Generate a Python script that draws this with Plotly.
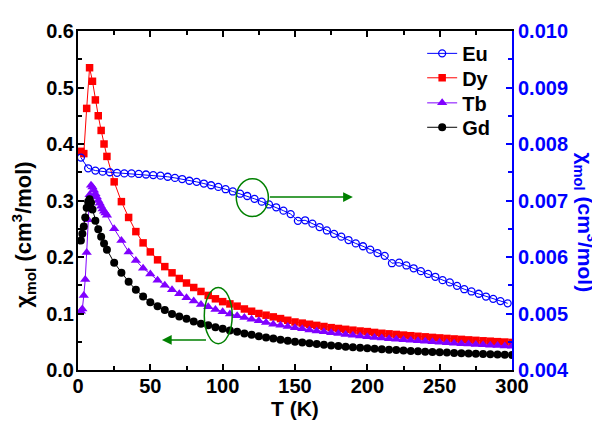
import plotly.graph_objects as go

# ---------------- data ----------------
T_grid = list(range(25, 301, 5))

dy_T = [2, 4, 6, 8, 10, 12, 14, 16, 18, 20] + T_grid
dy_chi = [0.387, 0.383, 0.463, 0.535, 0.511, 0.478, 0.450, 0.424, 0.400, 0.378,
          0.333, 0.298, 0.270, 0.245, 0.225, 0.209, 0.195, 0.183, 0.172, 0.162,
          0.154, 0.146, 0.139, 0.132, 0.126, 0.121, 0.117, 0.113, 0.108, 0.104,
          0.100, 0.097, 0.094, 0.091, 0.088, 0.085, 0.083, 0.081, 0.079, 0.077,
          0.075, 0.0735, 0.072, 0.0705, 0.069, 0.068, 0.0665, 0.065, 0.064, 0.063,
          0.0618, 0.0607, 0.0597, 0.0587, 0.0577, 0.0568, 0.0559, 0.055, 0.0542, 0.0533,
          0.0525, 0.0517, 0.051, 0.0502, 0.0495, 0.0488]

tb_T = list(range(2, 21)) + T_grid
tb_chi = [0.104, 0.108, 0.132, 0.160, 0.208, 0.266, 0.310, 0.327, 0.324, 0.318,
          0.312, 0.306, 0.300, 0.295, 0.290, 0.285, 0.281, 0.278, 0.274,
          0.250, 0.229, 0.209, 0.194, 0.180, 0.170, 0.159, 0.150, 0.142, 0.135,
          0.128, 0.122, 0.116, 0.112, 0.107, 0.103, 0.099, 0.096, 0.093, 0.090,
          0.087, 0.084, 0.081, 0.079, 0.077, 0.075, 0.073, 0.071, 0.069, 0.0675,
          0.066, 0.0645, 0.063, 0.0615, 0.060, 0.0588, 0.0577, 0.0566, 0.0555, 0.0545,
          0.0535, 0.0525, 0.0516, 0.0507, 0.0498, 0.049, 0.0482, 0.0474, 0.0466, 0.0459,
          0.0452, 0.0445, 0.0438, 0.0432, 0.0426, 0.042]

gd_T = [2, 3, 4, 5, 6, 7, 8, 9, 10, 12, 14, 16, 18, 20] + T_grid
gd_chi = [0.229, 0.241, 0.254, 0.270, 0.287, 0.298, 0.302, 0.296, 0.284, 0.264,
          0.249, 0.236, 0.224, 0.213,
          0.190, 0.172, 0.156, 0.142, 0.130, 0.120, 0.113, 0.106, 0.099, 0.0945,
          0.0905, 0.086, 0.082, 0.079, 0.0755, 0.0728, 0.070, 0.0675, 0.0648, 0.0622,
          0.0598, 0.0576, 0.0556, 0.0537, 0.0519, 0.0502, 0.0487, 0.0472, 0.0459, 0.0446,
          0.0434, 0.0423, 0.0412, 0.0402, 0.0393, 0.0384, 0.0375, 0.0367, 0.0359, 0.0352,
          0.0345, 0.0338, 0.0331, 0.0325, 0.0319, 0.0313, 0.0308, 0.0302, 0.0297, 0.0292,
          0.0288, 0.0283, 0.0279, 0.0275, 0.0271, 0.0267]

eu_T = list(range(2, 298, 5))
eu_chi = [0.00776, 0.00757, 0.00753, 0.00751, 0.00750, 0.00749, 0.00748, 0.00748,
          0.00747, 0.00746, 0.00745, 0.00744, 0.00742, 0.00740, 0.00738, 0.00735,
          0.00733, 0.00730, 0.00727, 0.00724, 0.00720, 0.00716, 0.00712, 0.00708,
          0.00703, 0.00698, 0.00693, 0.00688, 0.00682, 0.00676, 0.00664, 0.00665,
          0.00659, 0.00653, 0.00647, 0.00641, 0.00636, 0.00630, 0.00624, 0.00619,
          0.00613, 0.00607, 0.00602, 0.00589, 0.00590, 0.00585, 0.00580, 0.00575,
          0.00570, 0.00565, 0.00559, 0.00555, 0.00549, 0.00543, 0.00539, 0.00535,
          0.00530, 0.00526, 0.00522, 0.00518]

labels = ["Eu", "Dy", "Tb", "Gd"]

# ---------------- figure ----------------
FONT = "Liberation Sans, Arial, sans-serif"
BLUE = "#0000ff"
RED = "#ff0000"
PURPLE = "#8000ff"
GREEN = "#008000"

fig = go.Figure()
fig.add_trace(go.Scatter(x=eu_T, y=eu_chi, name=labels[0], yaxis="y2", mode="lines+markers",
                         legend="legend",
                         line=dict(color=BLUE, width=1),
                         marker=dict(symbol="circle-open", size=7, color=BLUE, line=dict(width=1.3))))
fig.add_trace(go.Scatter(x=dy_T, y=dy_chi, name=labels[1], mode="lines+markers",
                         legend="legend2",
                         line=dict(color=RED, width=1),
                         marker=dict(symbol="square", size=7.5, color=RED)))
fig.add_trace(go.Scatter(x=tb_T, y=tb_chi, name=labels[2], mode="lines+markers",
                         legend="legend3",
                         line=dict(color=PURPLE, width=1),
                         marker=dict(symbol="triangle-up", size=9, color=PURPLE)))
fig.add_trace(go.Scatter(x=gd_T, y=gd_chi, name=labels[3], mode="lines+markers",
                         legend="legend4",
                         line=dict(color="black", width=1),
                         marker=dict(symbol="circle", size=8, color="black")))

legfont = dict(family=FONT, size=20, color="black", weight="bold")
def leg(y):
    return dict(x=0.793, y=y, xanchor="left", yanchor="middle",
                bgcolor="rgba(0,0,0,0)", borderwidth=0, font=legfont, itemwidth=30)

tickfont = dict(family=FONT, size=20, color="black", weight="bold")
fig.update_layout(
    width=592, height=415,
    margin=dict(l=70, r=88, t=13, b=53),
    paper_bgcolor="white", plot_bgcolor="white",
    showlegend=True,
    legend=leg(0.934), legend2=leg(0.862), legend3=leg(0.788), legend4=leg(0.716),
    xaxis=dict(range=[0, 300], dtick=50, tick0=0, showgrid=False, zeroline=False,
               showline=True, linecolor="black", linewidth=2, mirror="ticks",
               ticks="inside", ticklen=6, tickwidth=2, tickcolor="black",
               ticklabelstandoff=-3,
               minor=dict(dtick=25, ticks="inside", ticklen=4, tickwidth=2, tickcolor="black"),
               tickfont=tickfont),
    yaxis=dict(range=[0, 0.6], dtick=0.1, tick0=0, tickformat=".1f", showgrid=False, zeroline=False,
               showline=True, linecolor="black", linewidth=2,
               ticks="inside", ticklen=6, tickwidth=2, tickcolor="black",
               ticklabelstandoff=-2,
               minor=dict(dtick=0.05, ticks="inside", ticklen=4, tickwidth=2, tickcolor="black"),
               tickfont=tickfont),
    yaxis2=dict(range=[0.004, 0.010], dtick=0.001, tick0=0.004, tickformat=".3f",
                overlaying="y", side="right", showgrid=False, zeroline=False,
                showline=True, linecolor=BLUE, linewidth=2,
                ticks="inside", ticklen=6, tickwidth=2, tickcolor=BLUE,
                minor=dict(dtick=0.0005, ticks="inside", ticklen=4, tickwidth=2, tickcolor=BLUE),
                tickfont=dict(family=FONT, size=20, color=BLUE, weight="bold")),
)

# axis titles as annotations
fig.add_annotation(text="T (K)", xref="paper", yref="paper", x=0.5, y=-0.115,
                   xanchor="center", yanchor="middle", showarrow=False,
                   font=dict(family=FONT, size=21, color="black", weight="bold"))
fig.add_annotation(text="χ<sub>mol</sub> (cm<sup>3</sup>/mol)", xref="paper", yref="paper",
                   x=-0.126, y=0.40, xanchor="center", yanchor="middle", textangle=-90,
                   showarrow=False, font=dict(family=FONT, size=22, color="black", weight="bold"))
fig.add_annotation(text="χ<sub>mol</sub> (cm<sup>3</sup>/mol)", xref="paper", yref="paper",
                   x=1.17, y=0.436, xanchor="center", yanchor="middle", textangle=90,
                   showarrow=False, font=dict(family=FONT, size=21, color=BLUE, weight="bold"))

# green ellipses and arrows
fig.add_shape(type="circle", xref="x", yref="y", x0=109.4, x1=131.6, y0=0.2716, y1=0.3387,
              line=dict(color=GREEN, width=1.5))
fig.add_shape(type="circle", xref="x", yref="y", x0=87.3, x1=106.6, y0=0.0464, y1=0.146,
              line=dict(color=GREEN, width=1.5))
fig.add_annotation(x=190, y=0.306, ax=131.6, ay=0.306, xref="x", yref="y", axref="x", ayref="y",
                   text="", showarrow=True, arrowhead=2, arrowsize=1.3, arrowwidth=1.5,
                   arrowcolor=GREEN)
fig.add_annotation(x=58, y=0.0533, ax=89.5, ay=0.0533, xref="x", yref="y", axref="x", ayref="y",
                   text="", showarrow=True, arrowhead=2, arrowsize=1.3, arrowwidth=1.5,
                   arrowcolor=GREEN)

fig.write_html("out.html")
